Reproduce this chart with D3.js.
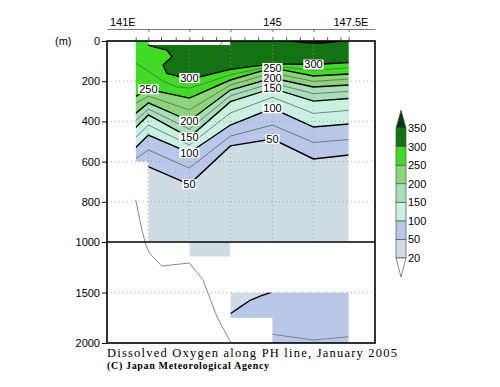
<!DOCTYPE html>
<html><head><meta charset="utf-8">
<script src="https://cdn.jsdelivr.net/npm/d3@7"></script>
<style>body{margin:0;background:#fff}svg{display:block}</style>
</head><body>
<svg id="c" width="500" height="387"></svg>
<script>
// ---------------- data ----------------
const stationLons = [141.0, 141.37, 142.57, 143.77, 145.0, 146.2, 147.23];
const tickLons = [141.0,141.37,141.74,142.17,142.57,142.95,143.35,143.77,144.18,144.58,145.0,145.4,145.8,146.2,146.6,146.99,147.23];
const xLabels = [{lon:141, text:"141E"}, {lon:145, text:"145"}, {lon:147.5, text:"147.5E"}];
const depthTicks = [0,200,400,600,800,1000,1500,2000];
const gridDepths = [200,400,600,800,1500];
const legendLevels = [20,50,100,150,200,250,300,350];
// band colours: <20, 20-50, 50-100, 100-150, 150-200, 200-250, 250-300, 300-350, >350
const bandColors = ["#ffffff","#d0dce3","#b9c8e9","#c9f1e1","#a6dfb8","#8cd67a","#40dc24","#137313","#0a3a0a"];

// isoline depths (m) at each station (upper section)
const iso50  = [640, 625, 713, 522, 488, 587, 567];
const iso75  = [585, 542, 632, 473, 418, 505, 490];
const iso100 = [530, 468, 556, 418, 335, 428, 413];
const iso125 = [480, 418, 517, 358, 280, 360, 345];
const iso150 = [430, 368, 479, 302, 236, 299, 286];
const iso175 = [395, 338, 438, 273, 209, 262, 250];
const iso200 = [360, 308, 397, 244, 184, 229, 219];
const iso225 = [310, 274, 343, 219, 158, 201, 189];
const iso250 = [275, 240, 284, 194, 134, 174, 164];
// isolines that do not span every station: [lon, depth]
const iso275 = [[141.0,110],[141.37,150],[141.8,200],[142.2,228],[142.57,234],[143.0,212],[143.77,168],[145.0,124],[146.2,146],[147.23,133]];
const iso300 = [[141.36,20],[141.51,28],[141.91,45],[142.06,78],[141.8,119],[141.91,161],[142.3,178],[142.57,184],[142.89,178],[143.77,141],[145.0,114],[146.2,117],[147.23,107]];
const iso325 = [[143.55,0],[143.45,25],[143.6,65],[143.8,45],[143.77,0]];
const iso350 = [[145.55,0],[145.9,8],[146.3,11],[146.7,6],[147.0,0]];

// deep section
const deep50 = [[143.77,1710],[144.06,1642],[144.35,1577],[144.64,1535],[144.95,1500]];
const deep75 = [[145.0,1914],[146.2,1970],[147.23,1938]];
// bottom topography [lon, depth]
const bathy = [[141.0,790],[141.18,940],[141.3,1030],[141.4,1110],[141.76,1238],[142.57,1208],[142.97,1376],[143.38,1743],[143.79,2000]];

// data coverage
const upperMask = [[141.0,0],[147.23,0],[147.23,995],[141.37,995],[141.37,600],[141.0,600]];
const topGap = [141.37, 143.77, 0, 20];
const lowerBlocks = [[142.57,143.77,1000,1145],[143.77,145.0,1500,1750],[145.0,147.23,1500,2000]];

// contour labels: level + station longitude
const contourLabels = [
  {level:300, lon:142.57},{level:300, lon:146.2},
  {level:250, lon:141.37},{level:250, lon:145.0},
  {level:200, lon:142.57},{level:200, lon:145.0},
  {level:150, lon:142.57},{level:150, lon:145.0},
  {level:100, lon:142.57},{level:100, lon:145.0},
  {level:50,  lon:142.57},{level:50,  lon:145.0}
];

// ---------------- drawing ----------------
const svg = d3.select("#c");
const FL = 107, FR = 375, FT = 41, FB = 343;
const x = d3.scaleLinear().domain([140.16, 148.0]).range([FL, FR]);
const y = d3.scaleLinear().domain([0, 1000, 2000]).range([FT, 242, FB]);
const sans = "'Liberation Sans', Arial, Helvetica, sans-serif";

const toPts = arr => arr.map((d,i) => [stationLons[i], d]);
const contours = [
  {level:50, bold:true, pts:toPts(iso50)},
  {level:75, bold:false, pts:toPts(iso75)},
  {level:100, bold:true, pts:toPts(iso100)},
  {level:125, bold:false, pts:toPts(iso125)},
  {level:150, bold:true, pts:toPts(iso150)},
  {level:175, bold:false, pts:toPts(iso175)},
  {level:200, bold:true, pts:toPts(iso200)},
  {level:225, bold:false, pts:toPts(iso225)},
  {level:250, bold:true, pts:toPts(iso250)},
  {level:275, bold:false, pts:iso275},
  {level:300, bold:true, pts:iso300},
  {level:325, bold:false, pts:iso325},
  {level:350, bold:true, pts:iso350}
];
const line = d3.line().x(d => x(d[0])).y(d => y(d[1]));

const defs = svg.append("defs");
defs.append("clipPath").attr("id","cu").append("path").attr("d", line(upperMask) + "Z");
const cl = defs.append("clipPath").attr("id","cl");
lowerBlocks.forEach(b => cl.append("rect").attr("x", x(b[0])).attr("y", y(b[2]))
  .attr("width", x(b[1]) - x(b[0])).attr("height", y(b[3]) - y(b[2])));

// upper fills
const gU = svg.append("g").attr("clip-path","url(#cu)");
gU.append("path").attr("d", line(upperMask) + "Z").attr("fill", bandColors[1]);
contours.filter(c => legendLevels.includes(c.level)).forEach(c => {
  const pts = c.pts.concat([[c.pts[c.pts.length-1][0], -20], [c.pts[0][0], -20]]);
  gU.append("path").attr("d", line(pts) + "Z")
    .attr("fill", bandColors[legendLevels.indexOf(c.level) + 1]);
});
gU.append("rect").attr("x", x(topGap[0])).attr("y", y(topGap[2]) - 1)
  .attr("width", x(topGap[1]) - x(topGap[0])).attr("height", y(topGap[3]) - y(topGap[2]) + 1)
  .attr("fill", "#fff");

// lower fills
const gL = svg.append("g").attr("clip-path","url(#cl)");
lowerBlocks.forEach(b => gL.append("rect").attr("x", x(b[0])).attr("y", y(b[2]))
  .attr("width", x(b[1]) - x(b[0])).attr("height", y(b[3]) - y(b[2])).attr("fill", bandColors[1]));
gL.append("path").attr("d", line(deep50.concat([[147.23,1500],[147.23,2000],[143.77,2000]])) + "Z")
  .attr("fill", bandColors[2]);

// grid
const grid = svg.append("g").attr("stroke", "#999").attr("stroke-width", 0.8).attr("stroke-dasharray", "1,3");
gridDepths.forEach(d => grid.append("line").attr("x1", FL).attr("x2", FR).attr("y1", y(d)).attr("y2", y(d)));
stationLons.slice(1, 6).forEach(l => grid.append("line").attr("x1", x(l)).attr("x2", x(l))
  .attr("y1", FT).attr("y2", y(1000)));

// contour lines
const gC = svg.append("g").attr("clip-path","url(#cu)").attr("fill","none");
contours.forEach(c => gC.append("path").attr("d", line(c.pts))
  .attr("stroke", c.bold ? "#000" : "#555").attr("stroke-width", c.bold ? 1.4 : 0.7));
const gCL = svg.append("g").attr("clip-path","url(#cl)").attr("fill","none");
gCL.append("path").attr("d", line(deep50)).attr("stroke","#000").attr("stroke-width",1.4);
gCL.append("path").attr("d", line(deep75)).attr("stroke","#777").attr("stroke-width",0.9);

// bathymetry
svg.append("path").attr("d", line(bathy)).attr("fill","none").attr("stroke","#888").attr("stroke-width",1);

// contour labels
contourLabels.forEach(lb => {
  const c = contours.find(k => k.level === lb.level);
  const p = c.pts.find(q => Math.abs(q[0] - lb.lon) < 1e-6);
  const g = svg.append("g").attr("transform", `translate(${x(p[0])},${y(p[1])})`);
  const r = g.append("rect").attr("fill", "#fff");
  const t = g.append("text").text(lb.level).attr("text-anchor","middle").attr("dy","0.36em")
    .attr("font-family", sans).attr("font-size", 11);
  const bb = t.node().getBBox();
  r.attr("x", bb.x - 1).attr("y", -5).attr("width", bb.width + 2).attr("height", 10);
});

// frame
svg.append("rect").attr("x", FL).attr("y", FT).attr("width", FR - FL).attr("height", FB - FT)
  .attr("fill","none").attr("stroke","#000").attr("stroke-width",1.6);
svg.append("line").attr("x1", FL).attr("x2", FR).attr("y1", y(1000)).attr("y2", y(1000))
  .attr("stroke","#000").attr("stroke-width",1.6);

// y axis
const ya = svg.append("g").attr("transform", `translate(${FL},0)`)
  .call(d3.axisLeft(y).tickValues(depthTicks).tickFormat(d3.format("d")).tickSize(5).tickPadding(2).tickSizeOuter(0));
ya.select(".domain").remove();
ya.selectAll("text").attr("font-family", sans).attr("font-size", 11).attr("fill","#000");
svg.append("text").text("(m)").attr("x", 55).attr("y", FT + 4).attr("font-family", sans).attr("font-size", 11);

// top axes
const ta = svg.append("g").attr("transform", `translate(0,${FT})`)
  .call(d3.axisTop(x).tickValues(tickLons).tickSize(4).tickFormat("").tickSizeOuter(0));
ta.select(".domain").remove();
ta.selectAll("line").attr("stroke","#333").attr("stroke-width",0.8);
const tb = svg.append("g").attr("transform", "translate(0,29)")
  .call(d3.axisBottom(x).tickValues(stationLons.slice(1)).tickSize(3).tickFormat("").tickSizeOuter(0));
tb.selectAll("line, path").attr("stroke","#555").attr("stroke-width",0.8);
xLabels.forEach((l, i) => svg.append("text").text(l.text)
  .attr("x", x(l.lon) + (i === 2 ? -7 : 0)).attr("y", 26)
  .attr("text-anchor", i === 0 ? "end" : "middle")
  .attr("font-family", sans).attr("font-size", 11));

// legend
const ly = d3.scalePoint().domain(legendLevels).range([258, 128]);
const LX = 396, LW = 10;
const lg = svg.append("g").attr("stroke","#555").attr("stroke-width",0.7);
for (let i = 0; i < legendLevels.length - 1; i++) {
  lg.append("rect").attr("x", LX).attr("y", ly(legendLevels[i+1])).attr("width", LW)
    .attr("height", ly(legendLevels[i]) - ly(legendLevels[i+1])).attr("fill", bandColors[i+1]);
}
lg.append("path").attr("d", `M${LX},${ly(350)}L${LX+LW},${ly(350)}L${LX+LW/2},${ly(350)-18}Z`).attr("fill", bandColors[8]);
lg.append("path").attr("d", `M${LX},${ly(20)}L${LX+LW},${ly(20)}L${LX+LW/2},${ly(20)+19}Z`).attr("fill", bandColors[0]);
legendLevels.forEach(v => svg.append("text").text(v).attr("x", LX + LW + 2).attr("y", ly(v))
  .attr("dy","0.36em").attr("font-family", sans).attr("font-size", 11));

// titles
svg.append("text").text("Dissolved Oxygen along PH line, January 2005")
  .attr("x", 107).attr("y", 356.5).attr("font-family", "'Liberation Serif', 'Times New Roman', serif")
  .attr("font-size", 12.5).attr("textLength", 290).attr("lengthAdjust", "spacing");
svg.append("text").text("(C) Japan Meteorological Agency")
  .attr("x", 107).attr("y", 368.5).attr("font-family", "'Liberation Serif', 'Times New Roman', serif")
  .attr("font-weight", "bold").attr("font-size", 10).attr("textLength", 162).attr("lengthAdjust", "spacing");
</script>
</body></html>
